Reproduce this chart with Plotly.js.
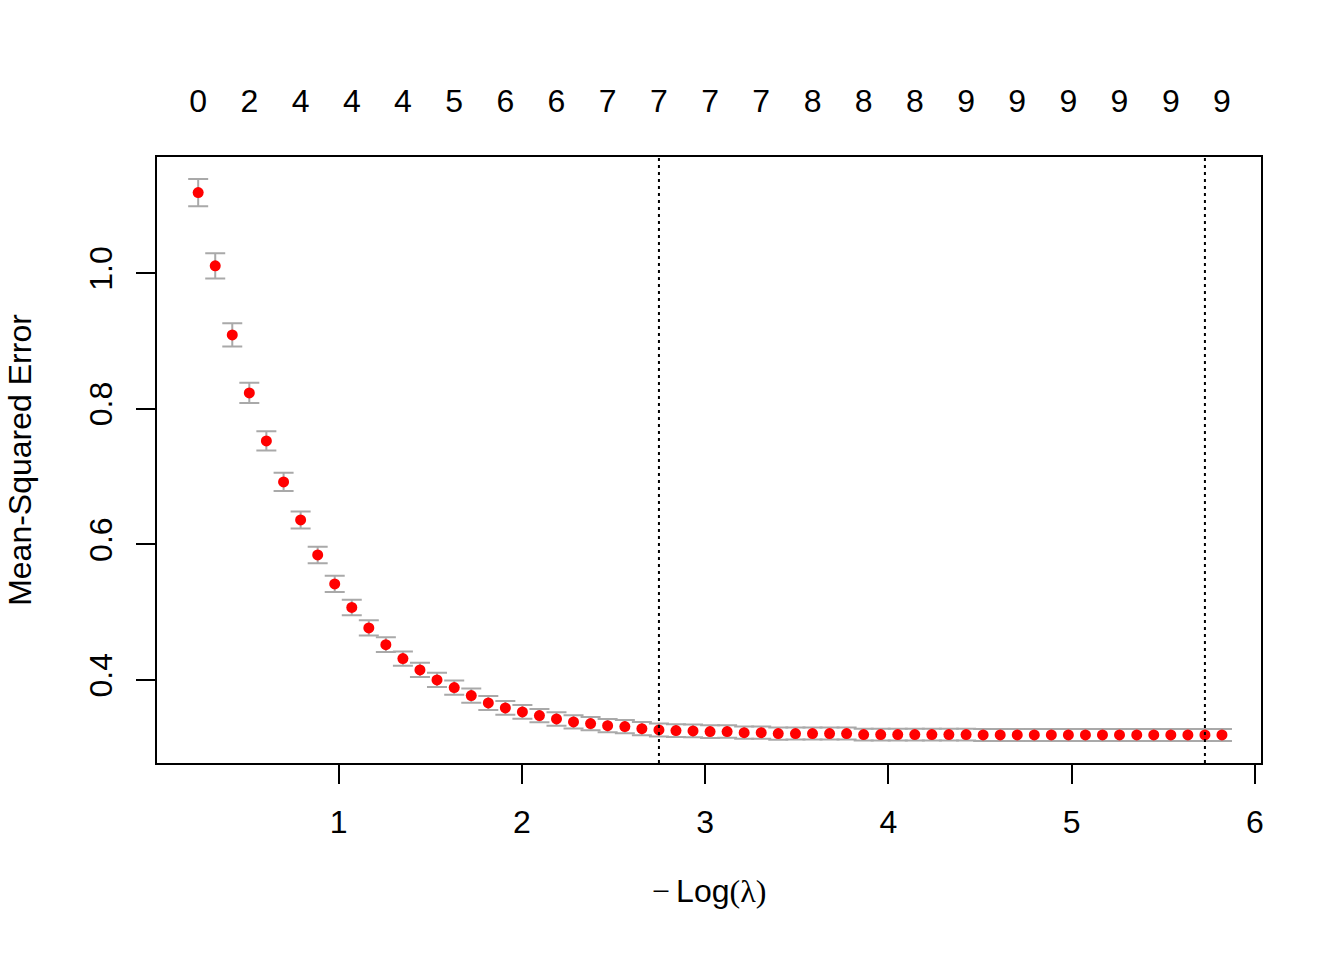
<!DOCTYPE html>
<html>
<head>
<meta charset="utf-8">
<script src="https://cdn.plot.ly/plotly-3.0.1.min.js"></script>
<style>html,body{margin:0;padding:0;background:#fff;}</style>
</head>
<body>
<div id="chart" style="width:1344px;height:960px;"></div>
<script>
// -Log(lambda) for each fitted lambda
const negLogLambda = [0.234,0.327,0.420,0.513,0.606,0.700,0.793,0.886,0.979,1.072,
  1.165,1.258,1.351,1.444,1.537,1.631,1.724,1.817,1.910,2.003,
  2.096,2.189,2.282,2.375,2.468,2.562,2.655,2.748,2.841,2.934,
  3.027,3.120,3.213,3.306,3.399,3.493,3.586,3.679,3.772,3.865,
  3.958,4.051,4.144,4.237,4.330,4.424,4.517,4.610,4.703,4.796,
  4.889,4.982,5.075,5.168,5.261,5.355,5.448,5.541,5.634,5.727,5.820];
// mean cross-validated error
const cvm = [1.119,1.011,0.909,0.8235,0.7527,0.6922,0.6361,0.5845,0.5417,0.507,
  0.4769,0.4522,0.4316,0.4149,0.4001,0.3888,0.377,0.3662,0.3588,0.3529,
  0.3475,0.3426,0.3382,0.3357,0.3327,0.3313,0.3283,0.3264,0.3254,0.3249,
  0.3239,0.3239,0.3224,0.3224,0.321,0.321,0.321,0.321,0.321,0.3195,
  0.3195,0.3195,0.3195,0.3195,0.3195,0.3195,0.319,0.319,0.319,0.319,
  0.319,0.319,0.319,0.319,0.319,0.319,0.319,0.319,0.319,0.319,0.319];
// standard error of cv error
const cvsd = [0.0202,0.0187,0.0172,0.015,0.0142,0.0135,0.0125,0.0122,0.012,0.0113,
  0.0113,0.0108,0.0106,0.0105,0.0105,0.0104,0.0104,0.0103,0.0102,0.0101,
  0.0099,0.0099,0.0098,0.0098,0.0098,0.0097,0.0097,0.0096,0.0095,0.0094,
  0.0093,0.0092,0.0091,0.009,0.009,0.0089,0.0089,0.0089,0.0088,0.0088,
  0.0088,0.0088,0.0088,0.0088,0.0088,0.0088,0.0088,0.0088,0.0088,0.0088,
  0.0088,0.0088,0.0088,0.0088,0.0088,0.0088,0.0088,0.0088,0.0088,0.0088,0.0088];
// number of non-zero coefficients shown on the top axis (every 3rd lambda)
const nzeroLabels = ['0','2','4','4','4','5','6','6','7','7','7','7','8','8','8','9','9','9','9','9','9'];
const labelStep = 3;
const lambda1se = 2.748;
const lambdaMin = 5.727;
const xTicks = [1,2,3,4,5,6];
const yTicks = [0.4,0.6,0.8,1.0];
const yTickText = ['0.4','0.6','0.8','1.0'];

const topVals = nzeroLabels.map((_, i) => negLogLambda[i * labelStep]);
const topY = nzeroLabels.map((_, i) => cvm[i * labelStep]);

const FONT = 'Liberation Sans, Arial, sans-serif';
const SERIF = 'Liberation Serif, DejaVu Serif, serif';
const xRange = [0.0093, 6.033];
const yRange = [0.2776, 1.1715];

const traces = [
  {
    x: negLogLambda, y: cvm, type: 'scatter', mode: 'markers',
    marker: {color: '#FF0000', size: 11},
    error_y: {type: 'data', array: cvsd, visible: true, color: '#A9A9A9', thickness: 2, width: 10},
    hoverinfo: 'x+y', showlegend: false
  },
  {
    x: topVals, y: topY, type: 'scatter', mode: 'markers', xaxis: 'x2',
    marker: {opacity: 0}, hoverinfo: 'skip', showlegend: false
  }
];

const layout = {
  width: 1344, height: 960,
  margin: {l: 157, r: 83, t: 157, b: 197},
  paper_bgcolor: '#ffffff', plot_bgcolor: '#ffffff',
  font: {family: FONT, size: 32, color: '#000'},
  showlegend: false,
  xaxis: {
    range: xRange, tickmode: 'array', tickvals: xTicks,
    ticks: 'outside', ticklen: 19, tickwidth: 2, tickcolor: '#000',
    showline: true, linecolor: '#000', linewidth: 2, mirror: true,
    showgrid: false, zeroline: false,
    tickfont: {family: FONT, size: 32, color: '#000'},
    ticklabelstandoff: 11,
    title: {
      text: '<span style="font-family:' + SERIF + '">\u2212\u2009</span>Log<span style="font-family:' + SERIF + '">(λ)</span>',
      font: {family: FONT, size: 32, color: '#000'}, standoff: 40
    }
  },
  xaxis2: {
    range: xRange, overlaying: 'x', side: 'top', anchor: 'y',
    tickmode: 'array', tickvals: topVals, ticktext: nzeroLabels,
    ticks: '', showline: false, showgrid: false, zeroline: false,
    tickfont: {family: FONT, size: 32, color: '#000'},
    ticklabelstandoff: 38
  },
  yaxis: {
    range: yRange, tickmode: 'array', tickvals: yTicks, ticktext: yTickText,
    tickangle: -90,
    ticks: 'outside', ticklen: 19, tickwidth: 2, tickcolor: '#000',
    showline: true, linecolor: '#000', linewidth: 2, mirror: true,
    showgrid: false, zeroline: false,
    tickfont: {family: FONT, size: 32, color: '#000'},
    ticklabelstandoff: 11,
    title: {text: 'Mean-Squared Error', font: {family: FONT, size: 32, color: '#000'}, standoff: 42}
  },
  shapes: [lambda1se, lambdaMin].map(v => ({
    type: 'line', xref: 'x', yref: 'y domain', x0: v, x1: v, y0: 0, y1: 1,
    line: {color: '#000', width: 2, dash: '3px,4px'}
  }))
};

Plotly.newPlot('chart', traces, layout, {displayModeBar: false, staticPlot: true});
</script>
</body>
</html>
